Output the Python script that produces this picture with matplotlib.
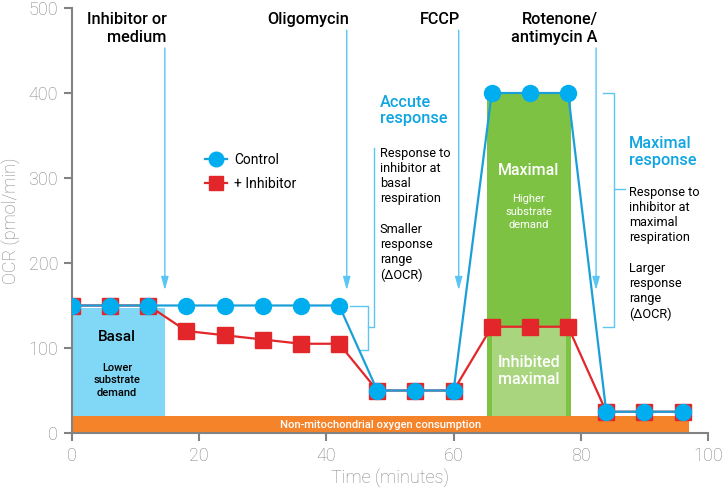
import numpy as np
import matplotlib
matplotlib.use("Agg")
import matplotlib.pyplot as plt
from matplotlib.lines import Line2D

plt.rcParams['font.family'] = ['Roboto', 'DejaVu Sans']

# Measurement times (minutes) and OCR values (pmol/min)
time = [0, 6, 12, 18, 24, 30, 36, 42, 48, 54, 60, 66, 72, 78, 84, 90, 96]
ocr_control = [150, 150, 150, 150, 150, 150, 150, 150, 50, 50, 50, 400, 400, 400, 25, 25, 25]
ocr_inhibitor = [150, 150, 150, 120, 115, 110, 105, 105, 50, 50, 50, 125, 125, 125, 25, 25, 25]

# Shaded regions: (x start, x end, y bottom, y top)
nonmito = (0, 97, 0, 20)
basal = (0, 14.6, 20, 147)
maximal = (65.3, 78.5, 20, 400)
inhibited_max = (66.1, 77.7, 20, 125)

# Injection labels and times
injections = ["Inhibitor or\nmedium", "Oligomycin", "FCCP", "Rotenone/\nantimycin A"]
injection_x = [14.6, 43.2, 60.8, 82.4]
injection_top = [453, 474, 474, 453]

BLUE = '#00adef'
BLUE_LINE = '#1b9fd9'
LIGHT_BLUE = '#5cc6f2'
TEXT_BLUE = '#0ea5e0'
RED = '#e3262a'
GRAY = '#838383'

fig = plt.figure(figsize=(7.23, 4.91), dpi=100)
ax = fig.add_axes([72 / 723, 1 - 433 / 491, 636 / 723, 425 / 491])


def region(r, color, z=1):
    ax.fill_between([r[0], r[1]], r[2], r[3], color=color, lw=0, zorder=z)


region(nonmito, '#f5832a')
region(basal, '#81d8f6')
region(maximal, '#7dc242')
region(inhibited_max, '#a9d57e', z=1.5)

ax.text(48.5, 10, "Non-mitochondrial oxygen consumption", color='white',
        fontsize=8.1, fontweight='medium', ha='center', va='center', zorder=3)
ax.text(7.1, 113, "Basal", fontsize=11, fontweight='medium', ha='center', va='center', zorder=3)
ax.text(7.1, 62, "Lower\nsubstrate\ndemand", fontsize=8.0, fontweight='medium',
        ha='center', va='center', linespacing=1.32, zorder=3)
ax.text(71.8, 309, "Maximal", fontsize=11.5, fontweight='medium', color='white',
        ha='center', va='center', zorder=3)
ax.text(71.8, 260, "Higher\nsubstrate\ndemand", fontsize=8.0, color='white',
        ha='center', va='center', linespacing=1.32, zorder=3)
ax.text(71.8, 73, "Inhibited\nmaximal", fontsize=11.5, fontweight='medium', color='white',
        ha='center', va='center', linespacing=1.15, zorder=3)

# data lines
ax.plot(time, ocr_inhibitor, color=RED, lw=1.6, marker='s', ms=12, mec=RED, mfc=RED, zorder=4)
ax.plot(time, ocr_control, color=BLUE_LINE, lw=1.6, marker='o', ms=11.5, mec=BLUE, mfc=BLUE, zorder=5)

# injection arrows and labels
for lab, x, top in zip(injections, injection_x, injection_top):
    ax.annotate("", xy=(x, 168), xytext=(x, top),
                arrowprops=dict(arrowstyle='-|>,head_length=0.8,head_width=0.22',
                                color=LIGHT_BLUE, lw=1.0, mutation_scale=10, shrinkA=0, shrinkB=0),
                zorder=3)
    ax.text(x + 0.3, 495, lab, fontsize=11.7, fontweight='medium', ha='right', va='top',
            linespacing=1.25, zorder=3)

# brackets
ax.plot([43.7, 46.5, 46.5, 45.3], [150, 150, 98, 98], color=LIGHT_BLUE, lw=1.0, zorder=3)
ax.plot([46.5, 47.5, 47.5], [124.7, 124.7, 335], color=LIGHT_BLUE, lw=1.0, zorder=3)
ax.plot([83.5, 85.2, 85.2, 83.5], [400, 400, 125, 125], color=LIGHT_BLUE, lw=1.0, zorder=3)
ax.plot([85.2, 87.0], [287, 287], color=LIGHT_BLUE, lw=1.0, zorder=3)

ax.text(48.4, 398, "Accute\nresponse", color=TEXT_BLUE, fontsize=11.7, fontweight='medium',
        ha='left', va='top', linespacing=1.15)
ax.text(48.4, 337, "Response to\ninhibitor at\nbasal\nrespiration\n\nSmaller\nresponse\nrange\n(ΔOCR)",
        fontsize=9.2, ha='left', va='top', linespacing=1.22)
ax.text(87.6, 349, "Maximal\nresponse", color=TEXT_BLUE, fontsize=11.7, fontweight='medium',
        ha='left', va='top', linespacing=1.15)
ax.text(87.6, 291, "Response to\ninhibitor at\nmaximal\nrespiration\n\nLarger\nresponse\nrange\n(ΔOCR)",
        fontsize=9.2, ha='left', va='top', linespacing=1.22)

# legend
handles = [Line2D([], [], color=BLUE_LINE, lw=1.6, marker='o', ms=10.5, mfc=BLUE, mec=BLUE),
           Line2D([], [], color=RED, lw=1.6, marker='s', ms=10.5, mfc=RED, mec=RED)]
ax.legend(handles, ["Control", "+ Inhibitor"], loc='upper left', bbox_to_anchor=(0.209, 0.66),
          frameon=False, fontsize=10, handlelength=1.6, handletextpad=0.5,
          labelspacing=0.75, borderpad=0, borderaxespad=0)

# axes styling
ax.set_xlim(0, 100)
ax.set_ylim(0, 500)
ax.set_xticks([0, 20, 40, 60, 80, 100])
ax.set_yticks([0, 100, 200, 300, 400, 500])
for s in ['top', 'right']:
    ax.spines[s].set_visible(False)
for s in ['left', 'bottom']:
    ax.spines[s].set_color(GRAY)
    ax.spines[s].set_linewidth(1.5)
ax.tick_params(colors=GRAY, labelcolor=GRAY, labelsize=13, width=1.5, length=6, pad=4)
for t in ax.get_xticklabels() + ax.get_yticklabels():
    t.set_fontweight('light')
ax.set_xlabel("Time (minutes)", fontsize=13, color=GRAY, fontweight='light', labelpad=2)
ax.set_ylabel("OCR (pmol/min)", fontsize=13, color=GRAY, fontweight='light', labelpad=6)

fig.savefig("out.png", dpi=100)
